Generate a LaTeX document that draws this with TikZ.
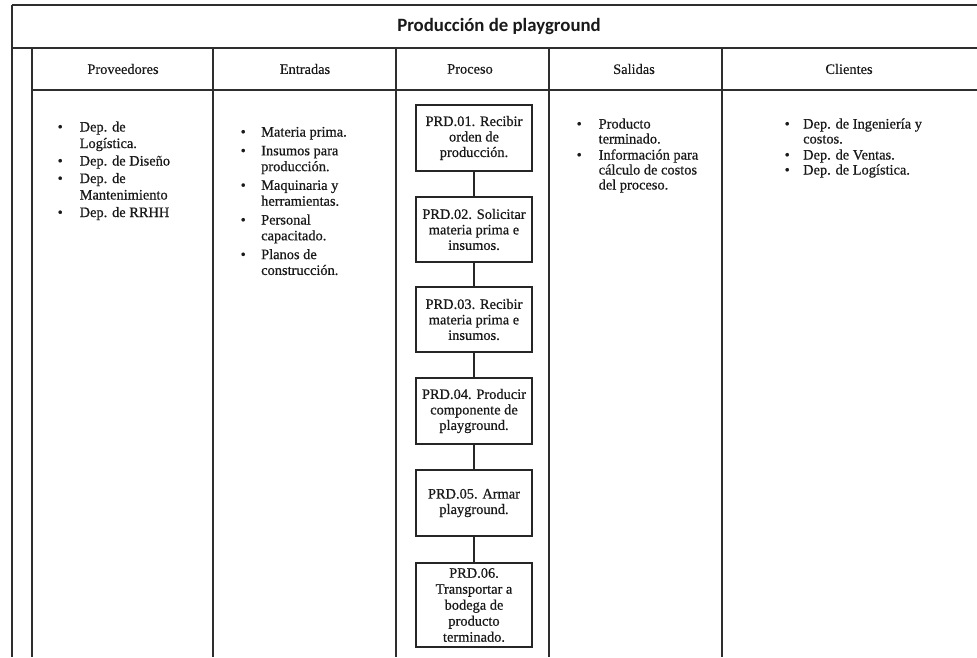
\documentclass[tikz,border=0pt]{standalone}
\usepackage{fontspec}
\setmainfont{Liberation Serif}
\newfontfamily\titlefont{Carlito}
\newfontfamily\bodyfont{Liberation Serif}[FakeBold=0.6]
\newfontfamily\headfont{Liberation Serif}[FakeBold=0.25]
\usepackage{array}

\tikzset{
  rule/.style={draw=black!82, line width=1.2pt},
  procbox/.style={draw=black!85, line width=1.4pt, minimum width=116pt,
    align=center, inner sep=2pt, text=black!90,
    font=\bodyfont\fontsize{14.4}{15.5}\selectfont},
  head/.style={inner sep=0pt, text=black!90, font=\headfont\fontsize{14.4}{16}\selectfont},
  bulletlist/.style={anchor=base west, inner sep=0pt, text=black!90},
  link/.style={draw=black!85, line width=1.2pt},
}

% bullet list: first column holds the bullet, second the wrapped text
\newenvironment{bitems}[1]{\begin{tabular}[t]{@{}p{#1}@{}l@{}}}{\end{tabular}}

\begin{document}
\begin{tikzpicture}[x=1pt,y=-1pt]
  \useasboundingbox[fill=white] (0,0) rectangle (977,657);

  % table frame
  \coordinate (tl) at (12,5);
  \coordinate (tr) at (977,5);
  \path[rule] (tl) -- (tr);
  \path[rule] (12,48) -- (977,48);
  \path[rule] (32,90) -- (977,90);
  \path[rule] (tl) -- (12,657);
  \foreach \x in {32,213,396,549,722}
    \path[rule] (\x,48) -- (\x,657);

  % title
  \node[inner sep=0pt, text=black!90, font=\titlefont\bfseries\fontsize{18.8}{20}\selectfont]
    (title) at (499,26.5) {Producción de playground};

  % column headings
  \node[head] (hprov) at (123,69) {Proveedores};
  \node[head] (hentr) at (305,69) {Entradas};
  \node[head] (hproc) at (470,69) {Proceso};
  \node[head] (hsal)  at (634,69) {Salidas};
  \node[head] (hcli)  at (849,69) {Clientes};

  % suppliers
  \node[bulletlist, font=\bodyfont\fontsize{14.4}{16.5}\selectfont] (prov) at (57.5,131.5) {%
    \begin{bitems}{22pt}
      \textbullet & Dep. de\\
                  & Logística.\\[1pt]
      \textbullet & Dep. de Diseño\\[1pt]
      \textbullet & Dep. de\\
                  & Mantenimiento\\[1pt]
      \textbullet & Dep. de RRHH
    \end{bitems}};

  % inputs
  \node[bulletlist, font=\bodyfont\fontsize{14.4}{15.8}\selectfont] (entr) at (240.5,136.5) {%
    \begin{bitems}{20.5pt}
      \textbullet & Materia prima.\\[3pt]
      \textbullet & Insumos para\\
                  & producción.\\[3pt]
      \textbullet & Maquinaria y\\
                  & herramientas.\\[3pt]
      \textbullet & Personal\\
                  & capacitado.\\[3pt]
      \textbullet & Planos de\\
                  & construcción.
    \end{bitems}};

  % outputs
  \node[bulletlist, font=\bodyfont\fontsize{14.4}{15}\selectfont] (sal) at (576.5,128.5) {%
    \begin{bitems}{22pt}
      \textbullet & Producto\\
                  & terminado.\\[1pt]
      \textbullet & Información para\\
                  & cálculo de costos\\
                  & del proceso.
    \end{bitems}};

  % customers
  \node[bulletlist, font=\bodyfont\fontsize{14.4}{15}\selectfont] (cli) at (784.5,128.5) {%
    \begin{bitems}{18.5pt}
      \textbullet & Dep. de Ingeniería y\\
                  & costos.\\[1pt]
      \textbullet & Dep. de Ventas.\\
      \textbullet & Dep. de Logística.
    \end{bitems}};

  % process steps
  \node[procbox, minimum height=66pt] (p1) at (474,138)   {PRD.01. Recibir\\orden de\\producción.};
  \node[procbox, minimum height=65pt] (p2) at (474,229.5) {PRD.02. Solicitar\\materia prima e\\insumos.};
  \node[procbox, minimum height=65pt] (p3) at (474,319.5) {PRD.03. Recibir\\materia prima e\\insumos.};
  \node[procbox, minimum height=66pt] (p4) at (474,411)   {PRD.04. Producir\\componente de\\playground.};
  \node[procbox, minimum height=66pt] (p5) at (474,503)   {PRD.05. Armar\\playground.};
  \node[procbox, minimum height=84pt, font=\bodyfont\fontsize{14.4}{16}\selectfont]
    (p6) at (474,605) {PRD.06.\\Transportar a\\bodega de\\producto\\terminado.};

  \path[link] (p1.south) -- (p2.north);
  \path[link] (p2.south) -- (p3.north);
  \path[link] (p3.south) -- (p4.north);
  \path[link] (p4.south) -- (p5.north);
  \path[link] (p5.south) -- (p6.north);
\end{tikzpicture}
\end{document}
